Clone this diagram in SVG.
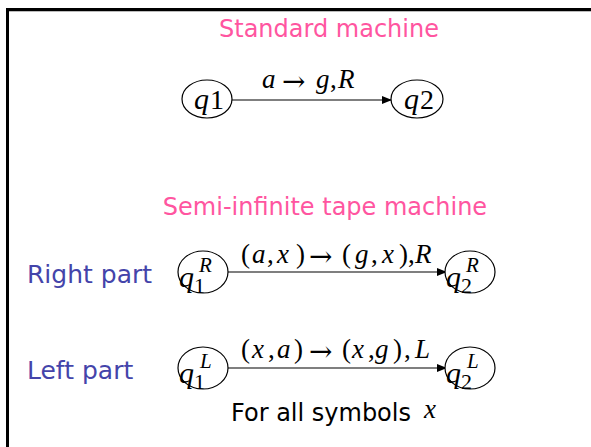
<svg xmlns="http://www.w3.org/2000/svg" width="591" height="447" viewBox="0 0 591 447">
<defs>
<marker id="ah" markerWidth="10" markerHeight="8" refX="9" refY="4" orient="auto" markerUnits="userSpaceOnUse">
<path d="M0,0 L10,4 L0,8 z" fill="#000"/>
</marker>
<style>
.title{font-family:"Comic Sans MS","DejaVu Sans","Noto Sans",sans-serif;font-size:24px;fill:#FF55A0}
.side{font-family:"Comic Sans MS","DejaVu Sans","Noto Sans",sans-serif;font-size:25px;fill:#4444AA}
.note{font-family:"Comic Sans MS","DejaVu Sans","Noto Sans",sans-serif;font-size:24px;fill:#000}
.math{font-family:"Liberation Serif","Times New Roman",serif;font-size:27px;fill:#000}
.it{font-style:italic}
.arr{font-family:"DejaVu Serif",serif;font-size:28px;fill:#000}
.qbig{font-family:"Liberation Serif","Times New Roman",serif;font-size:30px;font-style:italic;fill:#000}
.qnum{font-family:"Liberation Serif","Times New Roman",serif;font-size:28px;fill:#000}
.sub{font-family:"Liberation Serif","Times New Roman",serif;font-size:22px;fill:#000}
.sup{font-family:"Liberation Serif","Times New Roman",serif;font-size:21px;font-style:italic;fill:#000}
.node ellipse{fill:#fff;stroke:#000;stroke-width:1.2}
.edge{stroke:#000;stroke-width:1.2;fill:none;marker-end:url(#ah)}
</style>
</defs>
<rect x="0" y="0" width="591" height="447" fill="#fff"/>
<path d="M7.5,447 V9.5 H591" fill="none" stroke="#000" stroke-width="3"/>
<line x1="9" y1="11.5" x2="591" y2="11.5" stroke="#bbb" stroke-width="1"/>

<text class="title" x="329" y="37" text-anchor="middle">Standard machine</text>
<text class="title" x="325" y="215" text-anchor="middle">Semi-infinite tape machine</text>
<text class="side" x="27" y="283">Right part</text>
<text class="side" x="27" y="379">Left part</text>
<text class="note" x="231" y="421">For all symbols</text>
<text class="math it" x="424" y="418">x</text>

<g id="connectors">
<line class="edge" x1="232" y1="100" x2="391" y2="100"/>
<line class="edge" x1="228" y1="272" x2="446" y2="272"/>
<line class="edge" x1="228" y1="368" x2="446" y2="368"/>
<text class="math" y="88"><tspan class="it" x="262">a</tspan><tspan class="it" x="316">g</tspan><tspan x="330">,</tspan><tspan class="it" x="338">R</tspan></text>
<text class="arr" x="282" y="91">→</text>
<text class="math" y="263"><tspan x="241">(</tspan><tspan class="it" x="252">a</tspan><tspan x="267">,</tspan><tspan class="it" x="277">x</tspan><tspan x="296">)</tspan><tspan x="342">(</tspan><tspan class="it" x="355">g</tspan><tspan x="371">,</tspan><tspan class="it" x="382">x</tspan><tspan x="399">)</tspan><tspan x="408">,</tspan><tspan class="it" x="415">R</tspan></text>
<text class="arr" x="309" y="266">→</text>
<text class="math" y="358"><tspan x="241">(</tspan><tspan class="it" x="252">x</tspan><tspan x="268">,</tspan><tspan class="it" x="277">a</tspan><tspan x="294">)</tspan><tspan x="342">(</tspan><tspan class="it" x="352">x</tspan><tspan x="368">,</tspan><tspan class="it" x="375">g</tspan><tspan x="393">)</tspan><tspan x="404">,</tspan><tspan class="it" x="415">L</tspan></text>
<text class="arr" x="309" y="361">→</text>
</g>

<g id="q1" class="node">
<ellipse cx="207" cy="99" rx="25" ry="19"/>
<text class="qbig" x="194" y="109">q</text>
<text class="qnum" x="210" y="109">1</text>
</g>
<g id="q2" class="node">
<ellipse cx="417" cy="99" rx="26" ry="19"/>
<text class="qbig" x="404" y="109">q</text>
<text class="qnum" x="420" y="109">2</text>
</g>
<g id="q1R" class="node">
<ellipse cx="203" cy="272" rx="25" ry="21"/>
<text class="qbig" x="179" y="287">q</text>
<text class="sub" x="194" y="293">1</text>
<text class="sup" x="199" y="272">R</text>
</g>
<g id="q2R" class="node">
<ellipse cx="470" cy="272" rx="25" ry="21"/>
<text class="qbig" x="446" y="287">q</text>
<text class="sub" x="461" y="293">2</text>
<text class="sup" x="466" y="272">R</text>
</g>
<g id="q1L" class="node">
<ellipse cx="203" cy="368" rx="25" ry="21"/>
<text class="qbig" x="179" y="383">q</text>
<text class="sub" x="194" y="389">1</text>
<text class="sup" x="200" y="368">L</text>
</g>
<g id="q2L" class="node">
<ellipse cx="470" cy="368" rx="25" ry="21"/>
<text class="qbig" x="446" y="383">q</text>
<text class="sub" x="461" y="389">2</text>
<text class="sup" x="467" y="368">L</text>
</g>
</svg>
